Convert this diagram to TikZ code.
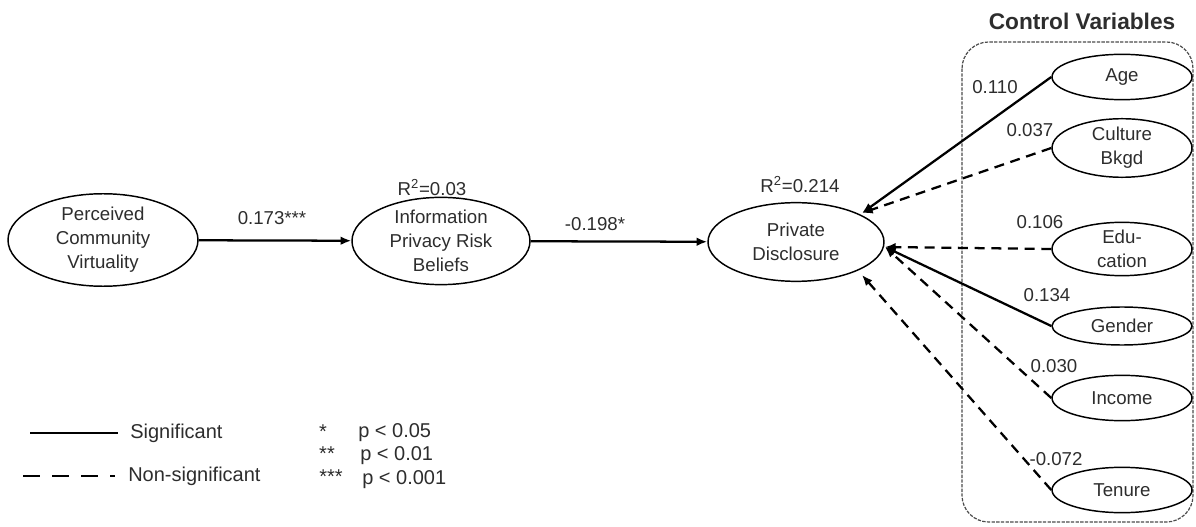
\documentclass[tikz,border=0pt]{standalone}
\usepackage{fontspec}
\setmainfont{Liberation Sans}
\usetikzlibrary{shapes.geometric,arrows.meta}
\definecolor{txt}{RGB}{45,45,45}
\tikzset{
  lat/.style={ellipse,draw=black,line width=1.1pt,inner sep=0pt,align=center,
    font=\fontsize{14}{18}\selectfont,text=txt},
  ctl/.style={lat,minimum width=105pt,minimum height=34pt},
  lbl/.style={font=\fontsize{14}{18}\selectfont,text=txt,inner sep=0pt},
  leg/.style={font=\fontsize{15}{18}\selectfont,text=txt,inner sep=0pt},
  sig/.style={line width=1.7pt,-{Latex[length=8pt,width=6.5pt]}},
  nsig/.style={line width=1.7pt,dash pattern=on 7.5pt off 5pt,-{Latex[length=8pt,width=6.5pt]}},
}
\begin{document}
\begin{tikzpicture}[x=0.75pt,y=-0.75pt]
\useasboundingbox (0,0) rectangle (1196,527);
% control box
\node[font=\bfseries\fontsize{17}{20}\selectfont,text=txt,inner sep=0pt] (cvt) at (1082,21) {Control Variables};
\draw[line width=0.9pt,draw=black!70,dash pattern=on 2.5pt off 1pt,rounded corners=20pt] (962,42) rectangle (1193,522);
% main constructs
\node[lat,minimum width=142.5pt,minimum height=63pt] (pcv) at (103,240) {Perceived\\Community\\Virtuality};
\node[lat,minimum width=133.5pt,minimum height=58pt] (iprb) at (441,241) {Information\\Privacy Risk\\Beliefs};
\node[lat,minimum width=132pt,minimum height=59pt] (pd) at (796,242) {Private\\Disclosure};
% control variables
\node[ctl] (age) at (1122,77) {Age};
\node[ctl,minimum height=35pt] (cul) at (1122,148) {Culture\\Bkgd};
\node[ctl,minimum height=35pt] (edu) at (1122,249) {Edu-\\cation};
\node[ctl,minimum height=28.5pt] (gen) at (1122,326) {Gender};
\node[ctl] (inc) at (1122,398) {Income};
\node[ctl] (ten) at (1122,490) {Tenure};
% endpoints on Private Disclosure
\coordinate (pdA) at (862,213);
\coordinate (pdB) at (885,247);
\coordinate (pdC) at (862,275);
% paths
\draw[sig] (pcv) -- (iprb);
\draw[sig] (iprb) -- (pd);
\draw[sig] (age.west) -- (pdA);
\draw[nsig] (cul.west) -- (pdA);
\draw[nsig] (edu.west) -- (pdB);
\draw[sig] (gen.west) -- (pdB);
\draw[nsig] (inc.west) -- (pdB);
\draw[nsig] (ten.west) -- (pdC);
% labels
\node[lbl] (l1) at (272,218) {0.173***};
\node[lbl] (r1) at (432,188) {R\textsuperscript{2}=0.03};
\node[lbl] (l2) at (595,224) {-0.198*};
\node[lbl] (r2) at (800,185) {R\textsuperscript{2}=0.214};
\node[lbl] (la) at (995,87) {0.110};
\node[lbl] (lc) at (1030,130) {0.037};
\node[lbl] (le) at (1040,222) {0.106};
\node[lbl] (lg) at (1047,295) {0.134};
\node[lbl] (li) at (1054,366) {0.030};
\node[lbl] (lt) at (1056,459) {-0.072};
% legend
\coordinate (s1) at (30,433);
\coordinate (s2) at (118,433);
\draw[line width=1.9pt] (s1) -- (s2);
\node[leg,anchor=west] (sigt) at (130,433) {Significant};
\coordinate (n1) at (23,476);
\coordinate (n2) at (115,476);
\draw[line width=1.9pt,dash pattern=on 12.75pt off 9pt] (n1) -- (n2);
\node[leg,anchor=west] (nsigt) at (128,476) {Non-significant};
\node[leg] (st1) at (323,432) {*};
\node[leg,anchor=west] (p1) at (358,433) {p < 0.05};
\node[leg] (st2) at (327,454) {**};
\node[leg,anchor=west] (p2) at (360,456) {p < 0.01};
\node[leg] (st3) at (331,477) {***};
\node[leg,anchor=west] (p3) at (362,480) {p < 0.001};
\end{tikzpicture}
\end{document}
